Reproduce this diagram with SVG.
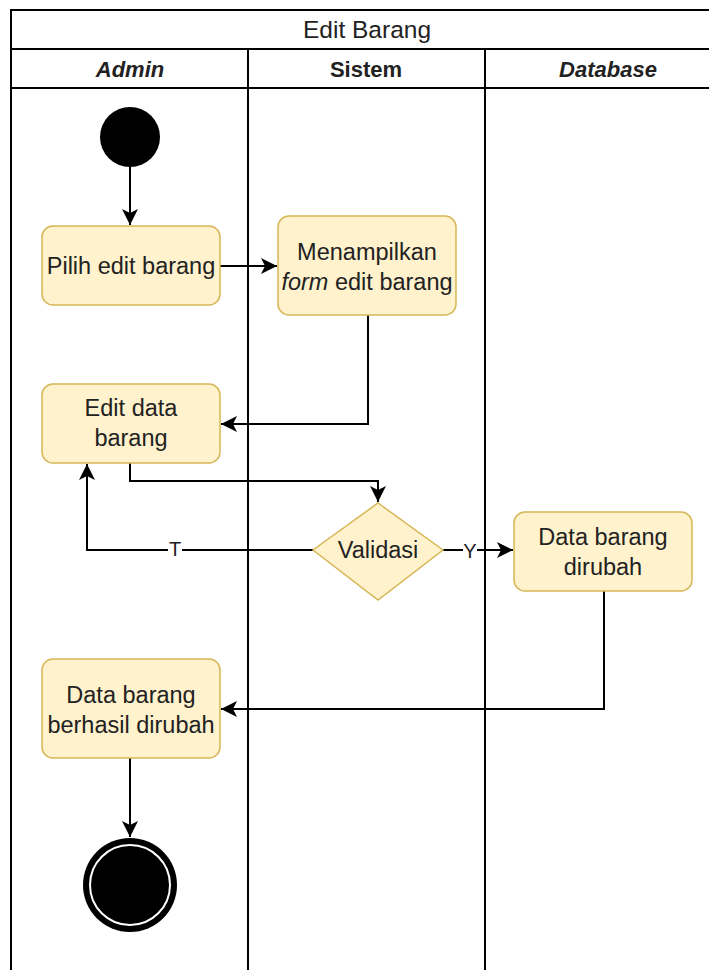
<svg xmlns="http://www.w3.org/2000/svg" width="709" height="970" viewBox="0 0 709 970">
<style>
.t{font-family:"Liberation Sans",Arial,sans-serif;font-size:23.5px;fill:#222;text-anchor:middle}
.h{font-size:22px;font-weight:bold}
.act{fill:#fff2cc;stroke:#d6b656;stroke-width:1.5}
.lane{fill:none;stroke:#000;stroke-width:2}
.c{fill:none;stroke:#000;stroke-width:2}
</style>
<defs>
<marker id="ah" markerUnits="userSpaceOnUse" markerWidth="18" markerHeight="16" refX="16" refY="8" orient="auto">
<path d="M0,0 L16,8 L0,16 L4,8 z" fill="#000"/>
</marker>
</defs>
<rect width="709" height="970" fill="#fff"/>
<g id="pool">
<path class="lane" d="M11,975 V10 H725 M11,49 H725 M11,88 H725 M248,49 V975 M485,49 V975"/>
<text class="t" x="367" y="38" style="font-size:24.5px">Edit Barang</text>
<text class="t h" x="130" y="77" style="font-style:italic">Admin</text>
<text class="t h" x="366" y="77">Sistem</text>
<text class="t h" x="608" y="77" style="font-style:italic">Database</text>
</g>
<g id="connectors">
<path class="c" d="M130,167 V225" marker-end="url(#ah)"/>
<path class="c" d="M220,266 H277" marker-end="url(#ah)"/>
<path class="c" d="M368,315 V424 H221" marker-end="url(#ah)"/>
<path class="c" d="M130,463 V481 H378 V502" marker-end="url(#ah)"/>
<path class="c" d="M313,550 H87 V464" marker-end="url(#ah)"/>
<path class="c" d="M443,550 H513" marker-end="url(#ah)"/>
<path class="c" d="M604,591 V709 H221" marker-end="url(#ah)"/>
<path class="c" d="M130,758 V837" marker-end="url(#ah)"/>
<rect x="168" y="536" width="14" height="20" fill="#fff"/>
<text class="t" x="175" y="556" style="font-size:20px">T</text>
<rect x="463" y="540" width="14" height="20" fill="#fff"/>
<text class="t" x="470" y="558" style="font-size:20px">Y</text>
</g>
<g id="start"><circle cx="130" cy="137" r="30" fill="#000"/></g>
<g id="pilih"><rect class="act" x="42" y="226" width="178" height="79" rx="11"/><text class="t" x="131" y="274">Pilih edit barang</text></g>
<g id="menampilkan"><rect class="act" x="278" y="216" width="178" height="99" rx="11"/><text class="t" x="367" y="260">Menampilkan</text><text class="t" x="367" y="290"><tspan font-style="italic">form</tspan> edit barang</text></g>
<g id="editdata"><rect class="act" x="42" y="384" width="178" height="79" rx="11"/><text class="t" x="131" y="416">Edit data</text><text class="t" x="131" y="446">barang</text></g>
<g id="validasi"><polygon points="378,503 443,550 378,600 313,550" fill="#fff2cc" stroke="#d6b656" stroke-width="1.5"/><text class="t" x="378" y="558">Validasi</text></g>
<g id="dirubah"><rect class="act" x="514" y="512" width="178" height="79" rx="11"/><text class="t" x="603" y="545">Data barang</text><text class="t" x="603" y="575">dirubah</text></g>
<g id="berhasil"><rect class="act" x="42" y="659" width="178" height="99" rx="11"/><text class="t" x="131" y="703">Data barang</text><text class="t" x="131" y="733">berhasil dirubah</text></g>
<g id="end"><circle cx="130" cy="885" r="47" fill="#000"/><circle cx="130" cy="885" r="40" fill="none" stroke="#fff" stroke-width="2"/></g>
</svg>
